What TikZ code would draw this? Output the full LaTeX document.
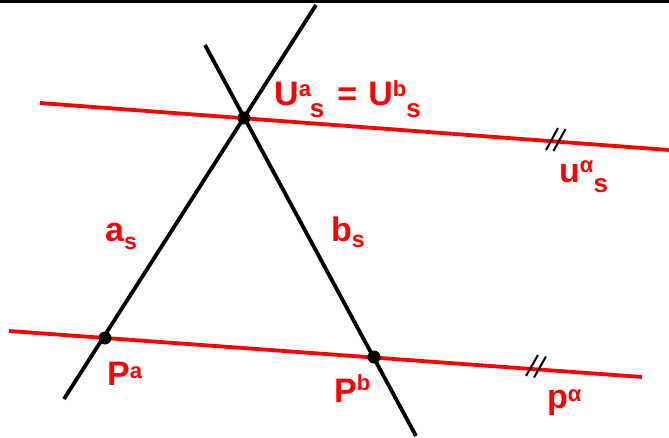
\documentclass[tikz,border=0pt]{standalone}
\usepackage{fontspec}
\setmainfont{Liberation Sans}
\usetikzlibrary{calc}
\newcommand\lsup[2]{\raisebox{#1pt}{\fontsize{22}{22}\selectfont #2}}
\newcommand\lsub[3]{\raisebox{-#1pt}{\fontsize{#2}{#2}\selectfont #3}}
\begin{document}
\begin{tikzpicture}[x=1pt,y=-1pt,
  blackline/.style={black,line width=3.8pt},
  redline/.style={red,line width=3.8pt},
  dot/.style={circle,fill=black,inner sep=0pt,minimum size=13pt},
  lab/.style={anchor=base west,inner sep=0pt,text=red,font=\fontsize{34}{34}\selectfont\bfseries},
  parmark/.style={black,line width=2pt}]
\useasboundingbox (0,0) rectangle (669,438);
\fill[black] (0,0) rectangle (669,3.3);
% coordinates
\coordinate (aTop) at (316,5);
\coordinate (aBot) at (64,399);
\coordinate (bTop) at (205,45);
\coordinate (bBot) at (416,436);
\coordinate (uL) at (40,103);
\coordinate (uR) at (669,150);
\coordinate (pL) at (9,331);
\coordinate (pR) at (642,377);
% lines
\draw[redline] (uL) -- (uR);
\draw[redline] (pL) -- (pR);
\draw[blackline] (aTop) -- (aBot);
\draw[blackline] (bTop) -- (bBot);
% points
\node[dot] (U) at (244,118) {};
\node[dot] (Pa) at (105,338) {};
\node[dot] (Pb) at (374,357) {};
% parallel marks
\coordinate (m1) at (552,139);
\coordinate (m2) at (559.5,140);
\coordinate (m3) at (532,365.5);
\coordinate (m4) at (540,367);
\draw[parmark] ($(m1)+(-6,11)$) -- ($(m1)+(6,-11)$);
\draw[parmark] ($(m2)+(-6,11)$) -- ($(m2)+(6,-11)$);
\draw[parmark] ($(m3)+(-6,10.5)$) -- ($(m3)+(6,-10.5)$);
\draw[parmark] ($(m4)+(-6,10.5)$) -- ($(m4)+(6,-10.5)$);
% labels
\node[lab] (Ulab) at (274,106) {U\lsup{9}{a}\kern-1pt\lsub{12}{26}{s}\hspace{13pt}=\hspace{11pt}U\lsup{9}{b}\lsub{12}{26}{s}};
\node[lab] (ulab) at (559,183) {u\lsup{10}{α}\lsub{10}{26}{s}};
\node[lab] (alab) at (105,242) {a\lsub{8}{23}{s}};
\node[lab] (blab) at (331,242) {b\lsub{6}{23}{s}};
\node[lab] (Palab) at (107,385) {P\lsup{7}{a}};
\node[lab] (Pblab) at (334,402) {P\lsup{12}{b}};
\node[lab] (plab) at (547,408) {p\lsup{7}{α}};
\end{tikzpicture}
\end{document}
